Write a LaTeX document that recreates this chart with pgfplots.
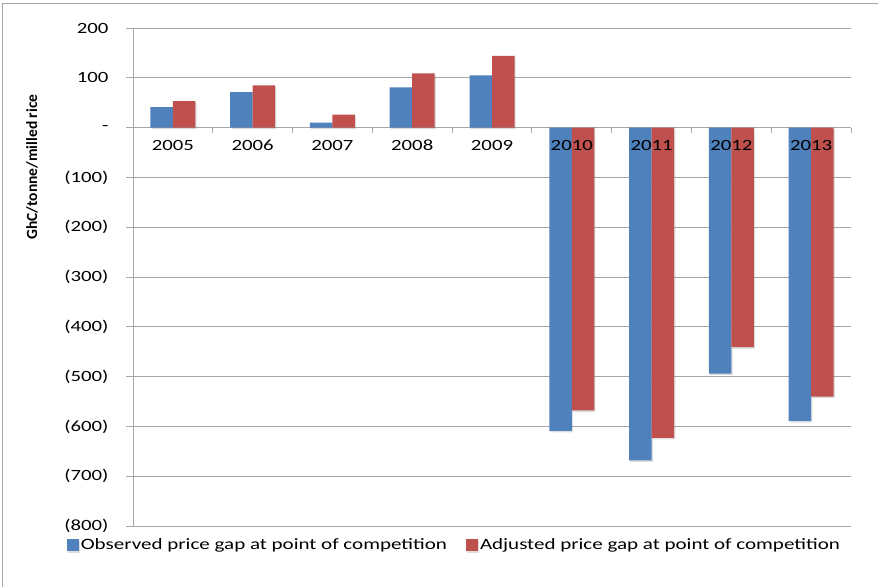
\documentclass[border=0pt]{standalone}
\usepackage{fontspec}
\setmainfont{Carlito}
\newfontfamily\tickfont{Carlito}[FakeStretch=1.33]
\usepackage{pgfplots}
\pgfplotsset{compat=1.18}
\usetikzlibrary{shadows}
\definecolor{obsblue}{RGB}{79,129,189}
\definecolor{adjred}{RGB}{192,80,77}
\definecolor{gridgray}{RGB}{166,166,166}
\begin{document}
\begin{tikzpicture}
\fill[white] (-133pt,-61pt) rectangle (745pt,526pt);
\draw[gridgray,line width=0.8pt] (-131pt,-61pt) -- (-131pt,523pt) -- (745pt,523pt);
\begin{axis}[
  at={(0,0)}, anchor=south west,
  width=718pt, height=498pt, scale only axis,
  xmin=-0.5, xmax=8.5, ymin=-800, ymax=200,
  axis y line=left, axis x line=middle,
  x axis line style={-, gridgray, line width=0.8pt},
  y axis line style={-, gridgray, line width=0.8pt},
  ybar=0pt, bar width=22.5pt,
  xtick={0,...,8},
  xticklabels={},
  minor xtick={-0.5,0.5,...,8.5},
  every major x tick/.style={draw=none},
  every minor x tick/.style={gridgray, line width=0.8pt},
  minor tick length=5pt,
  ytick={-800,-700,...,200},
  yticklabels={(800),(700),(600),(500),(400),(300),(200),(100),-,100,200},
  major tick length=7pt,
  tick align=outside,
  every major y tick/.style={gridgray, line width=0.8pt},
  ymajorgrids,
  grid style={gridgray, line width=0.8pt},
  tick label style={font=\tickfont\fontsize{15.6}{18}\selectfont, black},
  yticklabel style={xshift=-14pt},
  ylabel={GhC/tonne/milled rice},
  y label style={at={(axis description cs:-0.1407,0.721)}, anchor=center, font=\bfseries\fontsize{15.5}{18}\selectfont},
  legend columns=2,
  legend style={at={(axis description cs:0.4476,-0.038)}, anchor=center, draw=none, fill=none,
    font=\tickfont\fontsize{15.8}{18}\selectfont,
    /tikz/every even column/.append style={column sep=17pt},
    inner sep=0pt},
  clip=false,
]
\addplot[fill=obsblue, draw=none,
  drop shadow={shadow xshift=1.2pt, shadow yshift=-1.6pt, opacity=0.22, fill=black!60},
  legend image code/.code={\fill[obsblue] (0pt,-6pt) rectangle (12pt,6pt);}]
  coordinates {(0,41) (1,71) (2,10) (3,81) (4,105) (5,-609) (6,-668) (7,-494) (8,-589)};
\addplot[fill=adjred, draw=none,
  drop shadow={shadow xshift=1.2pt, shadow yshift=-1.6pt, opacity=0.22, fill=black!60},
  legend image code/.code={\fill[adjred] (0pt,-6pt) rectangle (12pt,6pt);}]
  coordinates {(0,53) (1,85) (2,26) (3,109) (4,144) (5,-568) (6,-623) (7,-441) (8,-540)};
\legend{Observed price gap at point of competition, Adjusted price gap at point of competition}
\end{axis}
\begin{axis}[
  at={(0,0)}, anchor=south west,
  width=718pt, height=498pt, scale only axis,
  xmin=-0.5, xmax=8.5, ymin=-800, ymax=200,
  axis y line=none, axis x line=middle,
  x axis line style={draw=none, -},
  xtick={0,...,8},
  xticklabels={2005,2006,2007,2008,2009,2010,2011,2012,2013},
  xtick style={draw=none},
  tick align=outside,
  tick label style={font=\tickfont\fontsize{15.6}{18}\selectfont, black},
  xticklabel style={yshift=-4.5pt},
]
\end{axis}
\pgfresetboundingbox
\useasboundingbox (-133pt,-61pt) rectangle (745pt,526pt);
\end{tikzpicture}
\end{document}
